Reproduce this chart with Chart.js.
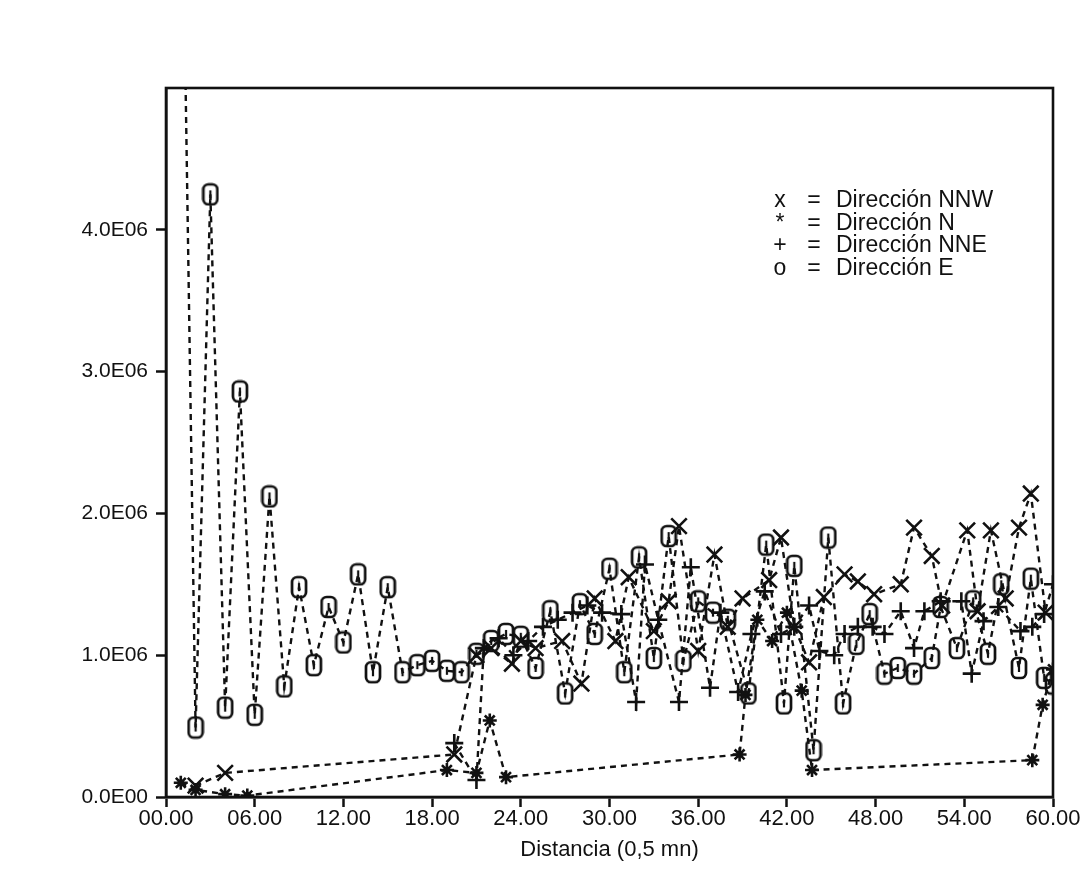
<!DOCTYPE html>
<html>
<head>
<meta charset="utf-8">
<script src="https://cdn.jsdelivr.net/npm/chart.js@4.4.1/dist/chart.umd.min.js"></script>
<style>
  html, body { margin: 0; padding: 0; background: #fff; }
  #wrap { width: 1088px; height: 892px; }
</style>
</head>
<body>
<div id="wrap"><canvas id="myChart" width="1088" height="892"></canvas></div>
<script>
// values in millions (E06), distance in 0,5 mn units
const xTickLabels = ["00.00", "06.00", "12.00", "18.00", "24.00", "30.00", "36.00", "42.00", "48.00", "54.00", "60.00"];
const yTickLabels = ["0.0E00", "1.0E06", "2.0E06", "3.0E06", "4.0E06", ""];

const distE = [1, 2, 3, 4, 5, 6, 7, 8, 9, 10, 11, 12, 13, 14, 15, 16, 17, 18, 19, 20,
  21, 22, 23, 24, 25, 26, 27, 28, 29, 30, 31, 32, 33, 34, 35, 36, 37, 38, 39.4, 40.6,
  41.8, 42.5, 43.8, 44.8, 45.8, 46.7, 47.6, 48.6, 49.5, 50.6, 51.8, 52.4, 53.5, 54.6, 55.6, 56.5,
  57.7, 58.5, 59.4, 60];
const valE = [7.2, 0.49, 4.25, 0.63, 2.86, 0.58, 2.12, 0.78, 1.48, 0.93, 1.34, 1.09, 1.57, 0.88, 1.48, 0.88, 0.93, 0.96, 0.89, 0.88,
  1.01, 1.10, 1.15, 1.13, 0.91, 1.31, 0.73, 1.36, 1.15, 1.61, 0.88, 1.69, 0.98, 1.84, 0.96, 1.38, 1.30, 1.25, 0.73, 1.78,
  0.66, 1.63, 0.33, 1.83, 0.66, 1.08, 1.29, 0.87, 0.91, 0.87, 0.98, 1.34, 1.05, 1.38, 1.01, 1.50,
  0.91, 1.54, 0.84, 0.80];

const distNNW = [2, 4, 19.5, 21, 22, 23.4, 24, 25, 26.8, 28.1, 29, 30.4, 31.3, 33, 34, 34.7, 36, 37.1, 38, 39,
  40.8, 41.6, 42.5, 43.5, 44.5, 45.9, 46.8, 47.9, 49.7, 50.6, 51.8, 52.5, 54.2, 54.9, 55.8, 56.8, 57.7, 58.5, 59.5];
const valNNW = [0.08, 0.17, 0.30, 1.00, 1.05, 0.94, 1.10, 1.05, 1.10, 0.80, 1.40, 1.10, 1.55, 1.17, 1.38, 1.91, 1.03, 1.71, 1.20, 1.40,
  1.53, 1.83, 1.20, 0.95, 1.41, 1.57, 1.52, 1.43, 1.50, 1.90, 1.70, 1.35, 1.88, 1.31, 1.88, 1.40, 1.90, 2.14, 1.30];

const distN = [1, 2, 4, 5.5, 19, 21, 21.9, 23, 38.8, 39.2, 40, 41, 42, 43, 43.7, 58.6, 59.3, 60];
const valN = [0.10, 0.05, 0.02, 0.01, 0.19, 0.17, 0.54, 0.14, 0.30, 0.72, 1.25, 1.10, 1.30, 0.75, 0.19, 0.26, 0.65, 0.90];

const distNNE = [19.5, 21, 21.5, 22.5, 23.5, 24.5, 25.5, 26.5, 27.5, 28.5, 29.5, 30.8, 31.8, 32.4, 33.3, 34.7, 35.5, 36.8, 37.5, 38.7,
  39.6, 40.5, 41.6, 42.5, 43.5, 44.2, 45.2, 45.9, 46.8, 47.8, 48.6, 49.7, 50.6, 51.3, 52.4, 53.8, 54.5, 55.3, 56.3, 57.8,
  58.6, 59.4, 60];
const valNNE = [0.38, 0.12, 1.05, 1.12, 1.00, 1.10, 1.20, 1.25, 1.30, 1.35, 1.30, 1.29, 0.67, 1.64, 1.25, 0.67, 1.62, 0.77, 1.30, 0.74,
  1.15, 1.45, 1.15, 1.20, 1.35, 1.03, 1.00, 1.15, 1.20, 1.20, 1.15, 1.31, 1.05, 1.31, 1.38, 1.38, 0.87, 1.24, 1.34, 1.17,
  1.20, 1.29, 1.50];

const legendRows = [
  { sym: "x", label: "Dirección NNW" },
  { sym: "*", label: "Dirección N" },
  { sym: "+", label: "Dirección NNE" },
  { sym: "o", label: "Dirección E" },
];

const ink = "#111";

function toPoints(xs, ys) {
  return xs.map((x, i) => ({ x: x, y: ys[i] }));
}

// "0"-like marker used for Dirección E
function makeOMarker() {
  const c = document.createElement("canvas");
  c.width = 18;
  c.height = 24;
  const g = c.getContext("2d");
  g.strokeStyle = ink;
  g.lineWidth = 2.7;
  g.beginPath();
  g.roundRect(2, 2, 14, 20, 5);
  g.stroke();
  g.lineWidth = 2.2;
  g.beginPath();
  g.moveTo(9, 8);
  g.lineTo(9, 16);
  g.stroke();
  return c;
}

const lineBase = {
  borderColor: ink,
  borderWidth: 2.4,
  borderDash: [6, 5],
  pointBorderColor: ink,
  pointBackgroundColor: "rgba(0,0,0,0)",
  pointBorderWidth: 2.6,
  fill: false,
  tension: 0,
};

const legendText = {
  id: "legendText",
  afterDraw(chart) {
    const ctx = chart.ctx;
    ctx.save();
    ctx.fillStyle = ink;
    ctx.font = "23px 'Liberation Sans', Arial, sans-serif";
    ctx.textBaseline = "middle";
    legendRows.forEach((r, i) => {
      const y = 201 + i * 22.5;
      ctx.textAlign = "center";
      ctx.fillText(r.sym, 780, y);
      ctx.fillText("=", 814, y);
      ctx.textAlign = "left";
      ctx.fillText(r.label, 836, y);
    });
    ctx.restore();
  },
};

const frame = {
  id: "frame",
  afterDraw(chart) {
    const a = chart.chartArea;
    const ctx = chart.ctx;
    ctx.save();
    ctx.strokeStyle = ink;
    ctx.lineWidth = 2.6;
    ctx.strokeRect(a.left, a.top, a.right - a.left, a.bottom - a.top);
    ctx.restore();
  },
};

var ctx = document.getElementById("myChart").getContext("2d");
var myChart = new Chart(ctx, {
  type: "line",
  data: {
    datasets: [
      Object.assign({}, lineBase, {
        label: "Dirección NNW",
        data: toPoints(distNNW, valNNW),
        pointStyle: "crossRot",
        pointRadius: 11,
      }),
      Object.assign({}, lineBase, {
        label: "Dirección N",
        data: toPoints(distN, valN),
        pointStyle: "star",
        pointRadius: 7,
      }),
      Object.assign({}, lineBase, {
        label: "Dirección NNE",
        data: toPoints(distNNE, valNNE),
        pointStyle: "cross",
        pointRadius: 9,
      }),
      Object.assign({}, lineBase, {
        label: "Dirección E",
        data: toPoints(distE, valE),
        pointStyle: makeOMarker(),
      }),
    ],
  },
  options: {
    responsive: false,
    animation: false,
    devicePixelRatio: 1,
    layout: { padding: { left: 0, right: 35, top: 88, bottom: 18 } },
    plugins: {
      legend: { display: false },
      tooltip: { enabled: false },
    },
    scales: {
      x: {
        type: "linear",
        min: 0,
        max: 60,
        afterFit: (s) => { s.height = 77; },
        afterBuildTicks: (s) => {
          s.ticks = xTickLabels.map((t) => ({ value: parseFloat(t) }));
        },
        ticks: {
          color: ink,
          padding: -1,
          maxRotation: 0,
          font: { family: "'Liberation Sans Narrow', 'Liberation Sans', Arial", size: 22 },
          callback: (v, i) => xTickLabels[i],
        },
        grid: { drawOnChartArea: false, color: ink, tickLength: 10, tickWidth: 2.5 },
        border: { color: ink, width: 2.6 },
        title: {
          display: true,
          text: "Distancia (0,5 mn)",
          color: ink,
          padding: { top: 4, bottom: 11 },
          font: { family: "'Liberation Sans Narrow', 'Liberation Sans', Arial", size: 22 },
        },
      },
      y: {
        min: 0,
        max: 5,
        afterFit: (s) => { s.width = 166; },
        ticks: {
          stepSize: 1,
          color: ink,
          padding: 8,
          font: { family: "'Liberation Sans', Arial", size: 21 },
          callback: (v, i) => yTickLabels[i],
        },
        grid: {
          drawOnChartArea: false,
          tickLength: 10,
          tickWidth: 2.5,
          tickColor: (c) => (c.tick && c.tick.value === 5 ? "rgba(0,0,0,0)" : ink),
        },
        border: { color: ink, width: 2.6 },
      },
    },
  },
  plugins: [frame, legendText],
});
</script>
</body>
</html>
